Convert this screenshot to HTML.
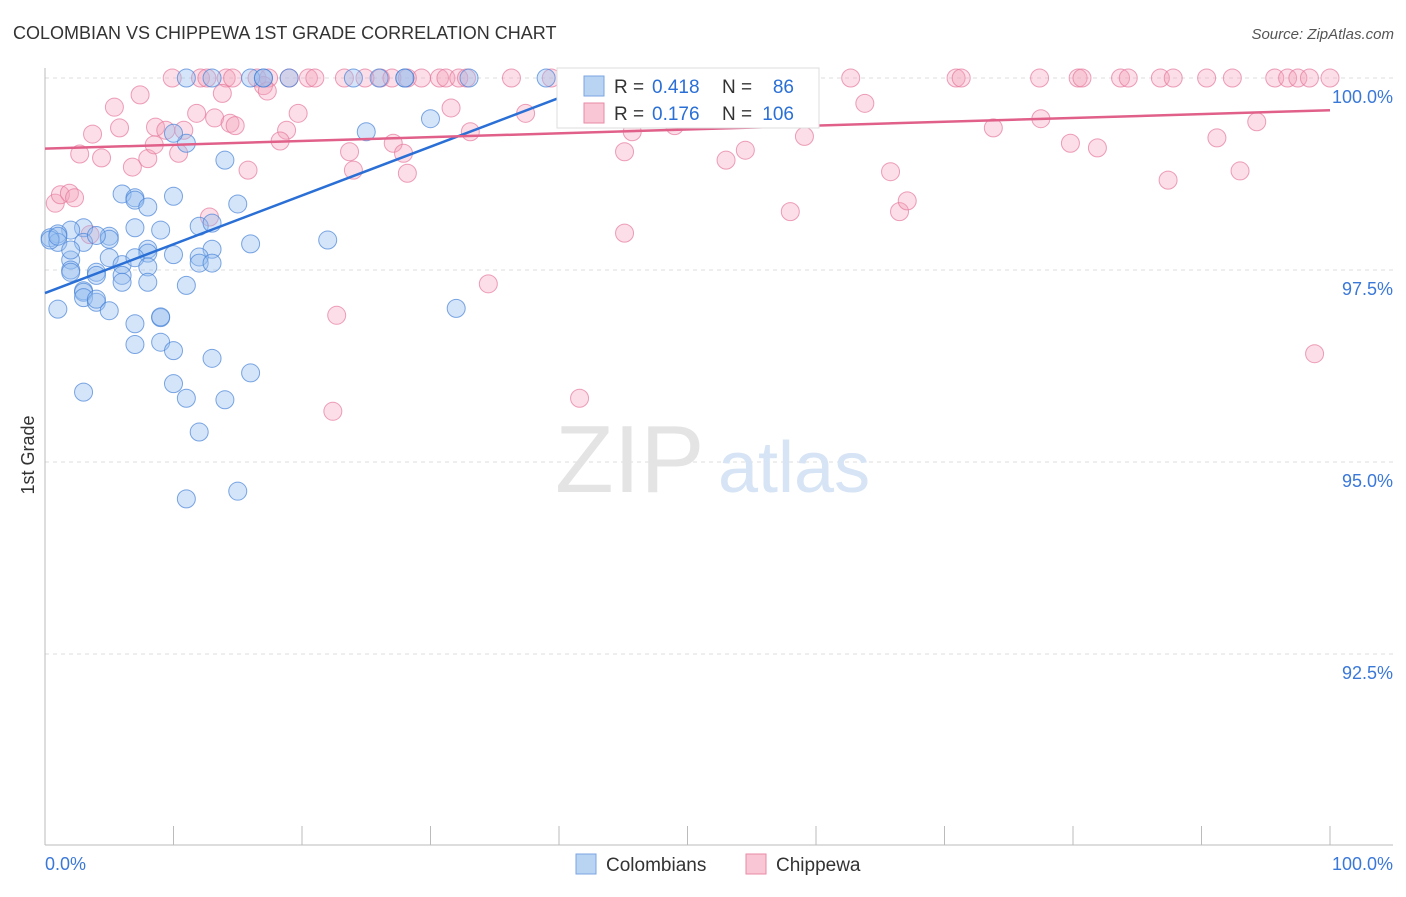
<!DOCTYPE html>
<html><head><meta charset="utf-8"><style>
body{margin:0;background:#fff;font-family:"Liberation Sans",sans-serif;}
svg text{font-family:"Liberation Sans",sans-serif;}
</style></head><body>
<svg id="chart" width="1406" height="892" viewBox="0 0 1406 892">
<text x="13" y="39" font-size="18" fill="#333">COLOMBIAN VS CHIPPEWA 1ST GRADE CORRELATION CHART</text>
<text x="1394" y="39" font-size="15" fill="#555" font-style="italic" text-anchor="end">Source: ZipAtlas.com</text>
<text x="34" y="455" font-size="18" fill="#333" transform="rotate(-90 34 455)" text-anchor="middle">1st Grade</text>
<g id="grid"></g>
<text x="555" y="492" font-size="96" fill="#e4e4e4" font-family="Liberation Serif">ZIP</text>
<text x="718" y="492" font-size="72" fill="#d6e4f5">atlas</text>
<g id="pts"></g>
<g id="lines"></g>
<g>
<rect x="557" y="68" width="262" height="60" fill="#fff" stroke="#ddd"/>
<rect x="584" y="76" width="20" height="20" fill="#b9d3f3" stroke="#7aa6e0"/>
<rect x="584" y="103" width="20" height="20" fill="#f8c6d4" stroke="#e88aa6"/>
<text x="614" y="93" font-size="19" fill="#333">R =</text>
<text x="652" y="93" font-size="19" fill="#2a6fd6">0.418</text>
<text x="722" y="93" font-size="19" fill="#333">N =</text>
<text x="794" y="93" font-size="19" fill="#2a6fd6" text-anchor="end">86</text>
<text x="614" y="120" font-size="19" fill="#333">R =</text>
<text x="652" y="120" font-size="19" fill="#2a6fd6">0.176</text>
<text x="722" y="120" font-size="19" fill="#333">N =</text>
<text x="794" y="120" font-size="19" fill="#2a6fd6" text-anchor="end">106</text>
</g>
<g>
<rect x="576" y="854" width="20" height="20" fill="#b9d3f3" stroke="#7aa6e0"/>
<text x="606" y="871" font-size="19" fill="#333">Colombians</text>
<rect x="746" y="854" width="20" height="20" fill="#f8c6d4" stroke="#e88aa6"/>
<text x="776" y="871" font-size="19" fill="#333">Chippewa</text>
</g>
</svg>
<script>
const yTicks=[100,97.5,95,92.5];
const yTickLabels=["100.0%","97.5%","95.0%","92.5%"];
const xTickLabels=["0.0%","100.0%"];
const blueX=[11,13,16,17,17,19,24,26,28,28,33,39,30,25,11,10,14,6,7,7,8,10,15,12,13,9,7,5,5,3,2,1,0.4,1,3,4,8,8,10,13,16,22,2,2,5,6,7,8,12,12,13,2,2,4,4,6,6,8,11,3,3,3,4,4,1,5,7,9,9,32,7,9,10,13,3,10,16,11,14,12,11,15,0.4,1];
const blueY=[100,100,100,100,100,100,100,100,100,100,100,100,99.47,99.3,99.15,99.28,98.93,98.49,98.44,98.41,98.32,98.46,98.36,98.07,98.11,98.02,98.05,97.94,97.9,98.05,98.02,97.97,97.92,97.86,97.86,97.95,97.77,97.72,97.7,97.77,97.84,97.89,97.63,97.76,97.66,97.57,97.66,97.54,97.67,97.59,97.59,97.5,97.47,97.47,97.43,97.43,97.34,97.34,97.3,97.23,97.21,97.14,97.08,97.12,96.99,96.97,96.8,96.88,96.89,97.0,96.53,96.56,96.45,96.35,95.91,96.02,96.16,95.83,95.81,95.39,94.52,94.62,97.89,97.94];
const pinkTopX=[9.9,12.1,12.6,14.1,14.6,16.5,17.4,19,20.5,21,23.3,24.9,26.1,27,28.2,29.3,30.7,31.2,32.2,32.8,36.3,39.4,40.9,45,46.3,48.8,51.4,56,62.7,70.9,71.3,77.4,80.4,80.7,83.7,84.3,86.8,87.8,90.4,92.4,95.7,96.7,97.5,98.4,100];
const pinkX=[7.4,5.4,13.8,17,17.3,11.8,19.7,13.2,31.6,37.4,63.8,77.5,94.3,3.7,5.8,8.6,9.4,10.8,14.4,14.8,18.8,33.1,45.7,49,73.8,91.2,79.8,81.9,2.7,4.4,6.8,8,10.4,8.5,18.3,23.7,27.1,27.9,45.1,54.5,53,59.1,24,28.2,15.8,65.8,87.4,93,0.8,1.2,1.9,2.3,12.8,58,66.5,67.1,3.5,45.1,34.5,22.7,22.4,41.6,98.8];
const pinkY=[99.78,99.62,99.8,99.9,99.83,99.54,99.54,99.48,99.61,99.54,99.67,99.47,99.43,99.27,99.35,99.36,99.32,99.32,99.41,99.38,99.32,99.3,99.3,99.38,99.35,99.22,99.15,99.09,99.01,98.96,98.84,98.95,99.02,99.13,99.18,99.04,99.15,99.02,99.04,99.06,98.93,99.24,98.8,98.76,98.8,98.78,98.67,98.79,98.37,98.48,98.5,98.44,98.19,98.26,98.26,98.4,97.96,97.98,97.32,96.91,95.66,95.83,96.41];
const blueTrendX=[0,40];
const blueTrendY=[97.2,99.74];
const pinkTrendX=[0,100];
const pinkTrendY=[99.08,99.58];
const NS="http://www.w3.org/2000/svg";
const X0=45,X1=1330,Y100=78,PX=76.8;
function sx(v){return X0+(X1-X0)*v/100;}
function sy(v){return Y100+(100-v)*PX;}
function mk(tag,attrs,parent){const e=document.createElementNS(NS,tag);for(const k in attrs)e.setAttribute(k,attrs[k]);parent.appendChild(e);return e;}
const grid=document.getElementById('grid');
yTicks.forEach((t,i)=>{
 const l=mk('line',{x1:45,x2:1393,y1:sy(t),y2:sy(t),stroke:'#ddd','stroke-dasharray':'4,4'},grid);
 
 
 const tx=mk('text',{x:1393,y:sy(t)+25,'font-size':18,fill:'#3a78d8','text-anchor':'end'},grid);
 tx.textContent=yTickLabels[i];
 
 
});
const ax=mk('line',{x1:45,x2:45,y1:68,y2:845,stroke:'#bbb'},grid);


const bx=mk('line',{x1:45,x2:1393,y1:845,y2:845,stroke:'#bbb'},grid);


for(let i=0;i<=10;i++){const t=mk('line',{x1:sx(i*10),x2:sx(i*10),y1:826,y2:845,stroke:'#bbb'},grid);
 
 }
[[0,'start',45],[100,'end',1393]].forEach((d,i)=>{const t=mk('text',{x:d[2],y:870,'font-size':18,fill:'#3a78d8','text-anchor':d[1]},grid);t.textContent=xTickLabels[i];
 
 });
const pts=document.getElementById('pts');
function pinkPt(x,y){const c=mk('circle',{cx:sx(x),cy:sy(y),r:9,fill:'rgba(244,160,185,0.35)',stroke:'rgba(230,120,155,0.7)','stroke-width':1},pts);
 
 }
pinkTopX.forEach(x=>pinkPt(x,100));
pinkX.forEach((x,i)=>pinkPt(x,pinkY[i]));
blueX.forEach((x,i)=>{const c=mk('circle',{cx:sx(x),cy:sy(blueY[i]),r:9,fill:'rgba(150,190,240,0.4)',stroke:'rgba(70,130,215,0.7)','stroke-width':1},pts);
 
 });
const lines=document.getElementById('lines');
const bl=mk('line',{x1:sx(blueTrendX[0]),y1:sy(blueTrendY[0]),x2:sx(blueTrendX[1]),y2:sy(blueTrendY[1]),stroke:'#2a6fd6','stroke-width':2.5},lines);


const pl=mk('line',{x1:sx(pinkTrendX[0]),y1:sy(pinkTrendY[0]),x2:sx(pinkTrendX[1]),y2:sy(pinkTrendY[1]),stroke:'#e0608a','stroke-width':2.5},lines);


</script>
</body></html>
